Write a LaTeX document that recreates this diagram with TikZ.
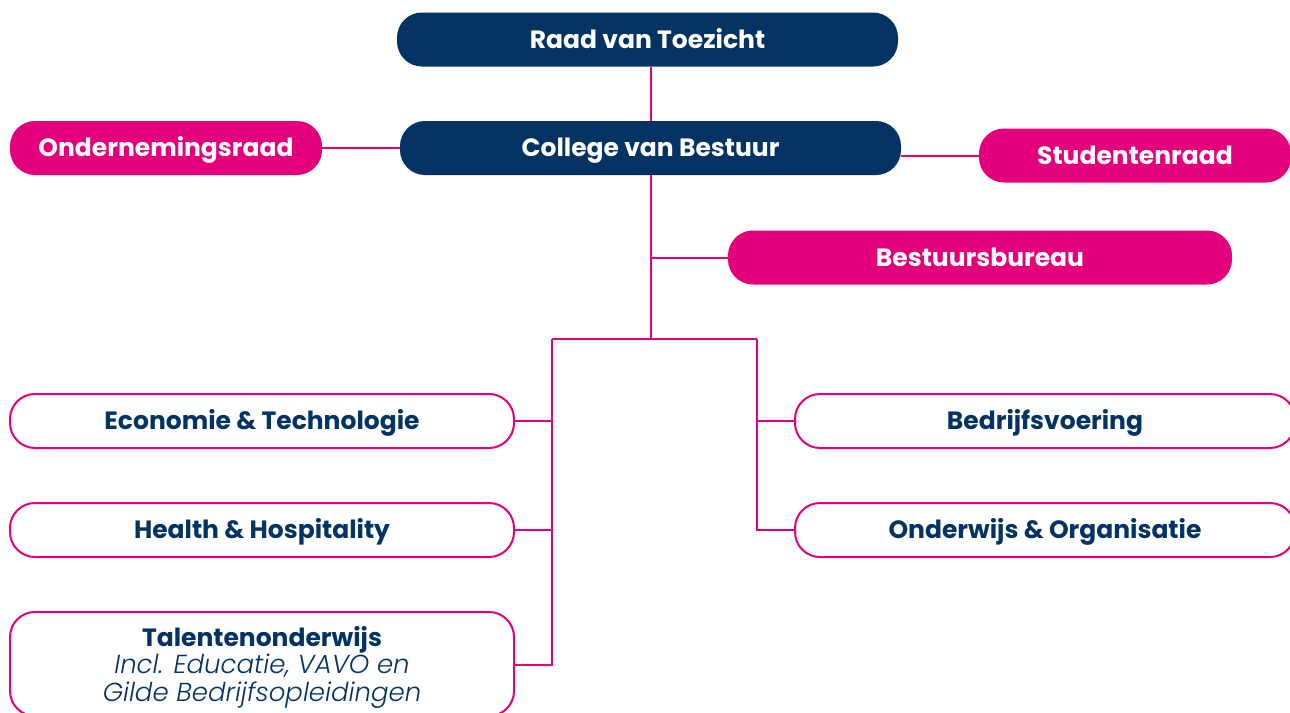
\documentclass[tikz,border=0pt]{standalone}
\usepackage{fontspec}
\setmainfont{Poppins}[BoldFont={Poppins Bold},ItalicFont={Poppins Light Italic}]
\definecolor{navy}{HTML}{033363}
\definecolor{mag}{HTML}{E4007C}
\begin{document}
\begin{tikzpicture}[x=1pt,y=-1pt,
  box/.style={rounded corners=25pt,minimum height=54pt,inner sep=0pt,text height=17.5pt,text depth=0pt,font=\fontsize{25}{28}\selectfont\bfseries,align=center},
  navybox/.style={box,fill=navy,text=white},
  magbox/.style={box,fill=mag,text=white},
  whitebox/.style={box,draw=mag,line width=2pt,fill=white,text=navy},
  conn/.style={draw=mag,line width=2pt}]
\useasboundingbox (0,0) rectangle (1290,712);
\node[navybox,minimum width=501pt] (rvt) at (647.5,39.5) {Raad van Toezicht};
\node[navybox,minimum width=501pt] (cvb) at (650.5,148) {College van Bestuur};
\node[magbox,minimum width=312pt] (or) at (166,148) {Ondernemingsraad};
\node[magbox,minimum width=312pt] (sr) at (1135,155.5) {Studentenraad};
\node[magbox,minimum width=504pt] (bb) at (980,257.5) {Bestuursbureau};
\node[whitebox,minimum width=504pt] (et) at (262,421) {Economie \& Technologie};
\node[whitebox,minimum width=504pt] (hh) at (262,530) {Health \& Hospitality};
\node[whitebox,minimum width=504pt,minimum height=104pt] (tw) at (262,664) {};
\node[text=navy,align=center,font=\fontsize{26}{27.5}\selectfont] (twt) at (262,667)
  {{\fontsize{25}{27.5}\selectfont\textbf{Talentenonderwijs}}\\\textit{Incl. Educatie, VAVO en}\\\textit{Gilde Bedrijfsopleidingen}};
\node[whitebox,minimum width=500pt] (bv) at (1045,421) {Bedrijfsvoering};
\node[whitebox,minimum width=500pt] (oo) at (1045,530) {Onderwijs \& Organisatie};
\coordinate (top) at (651,339);
\coordinate (jl) at (552,339);
\coordinate (jr) at (757,339);
\path[conn] (rvt.south -| 651,0) -- (cvb.north -| 651,0);
\path[conn] (or.east) -- (cvb.west |- or.east);
\path[conn] (cvb.east |- sr.west) -- (sr.west);
\path[conn] (cvb.south -| 651,0) -- (top);
\path[conn] (651,257.5) -- (bb.west);
\path[conn] (jl) -- (jr);
\path[conn] (jl) -- (552,665) -- (tw.east |- 0,665);
\path[conn] (552,421) -- (et.east);
\path[conn] (552,530) -- (hh.east);
\path[conn] (jr) -- (757,530) -- (oo.west);
\path[conn] (757,421) -- (bv.west);
\end{tikzpicture}
\end{document}
